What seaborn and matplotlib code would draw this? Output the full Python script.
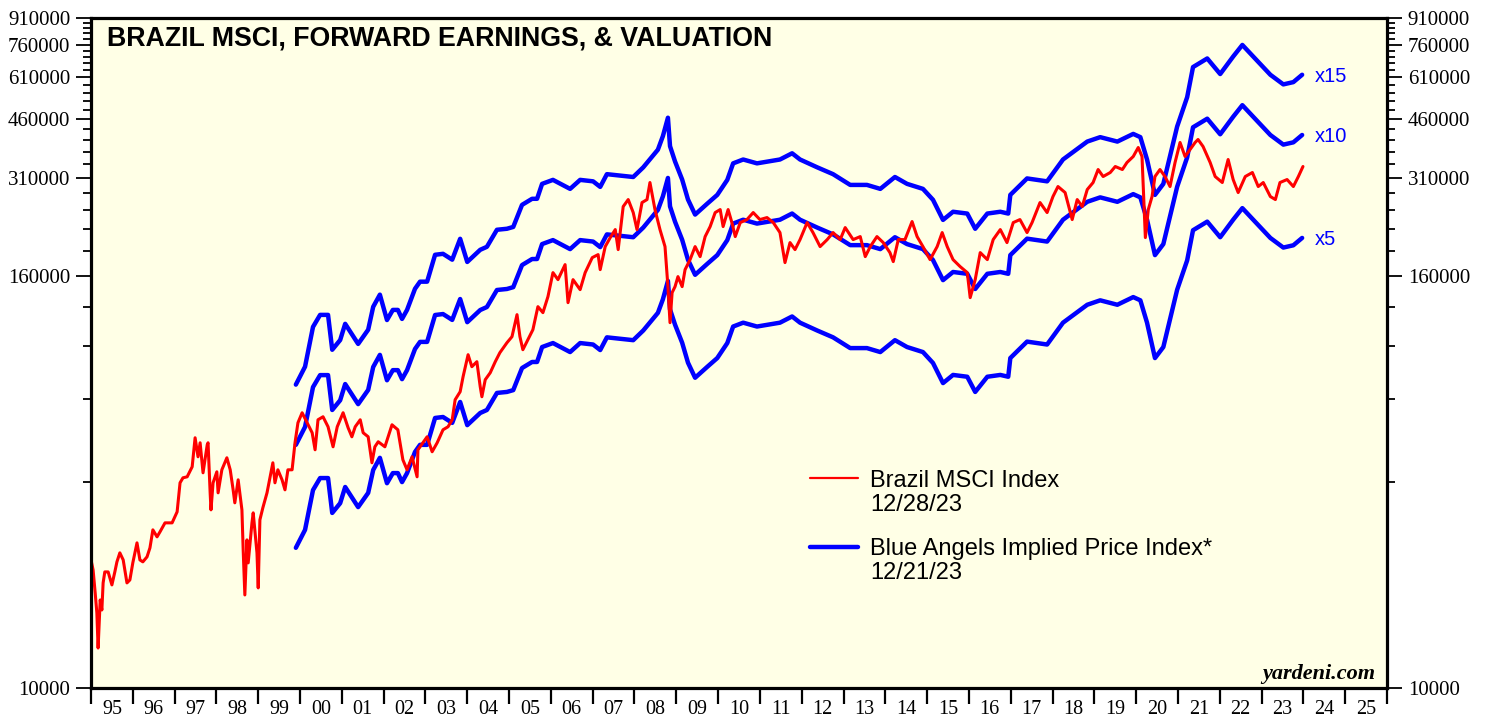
import numpy as np
import matplotlib
matplotlib.use("Agg")
import matplotlib.pyplot as plt
import seaborn as sns
from matplotlib.lines import Line2D
from matplotlib.ticker import FixedLocator, FixedFormatter, NullFormatter

# Brazil MSCI index (decimal year, index level)
msci_dates = [
    1995.00, 1995.05, 1995.10, 1995.14, 1995.17, 1995.22, 1995.26, 1995.29, 1995.33, 1995.41,
    1995.50, 1995.57, 1995.62, 1995.69, 1995.77, 1995.86, 1995.93, 1996.00, 1996.10, 1996.17,
    1996.24, 1996.34, 1996.41, 1996.48, 1996.58, 1996.65, 1996.77, 1996.94, 1997.06, 1997.13,
    1997.20, 1997.30, 1997.42, 1997.49, 1997.56, 1997.61, 1997.68, 1997.78, 1997.80, 1997.85,
    1997.87, 1997.92, 1998.01, 1998.04, 1998.13, 1998.25, 1998.33, 1998.40, 1998.44, 1998.52,
    1998.61, 1998.64, 1998.68, 1998.73, 1998.76, 1998.85, 1998.88, 1998.97, 1999.00, 1999.04,
    1999.11, 1999.21, 1999.28, 1999.35, 1999.40, 1999.47, 1999.57, 1999.64, 1999.71, 1999.81,
    1999.88, 1999.95, 2000.05, 2000.17, 2000.29, 2000.36, 2000.43, 2000.55, 2000.67, 2000.79,
    2000.89, 2001.03, 2001.15, 2001.24, 2001.32, 2001.44, 2001.51, 2001.63, 2001.72, 2001.79,
    2001.87, 2002.03, 2002.20, 2002.34, 2002.46, 2002.56, 2002.68, 2002.80, 2002.82, 2002.94,
    2003.04, 2003.16, 2003.28, 2003.42, 2003.54, 2003.64, 2003.71, 2003.83, 2003.90, 2004.02,
    2004.11, 2004.23, 2004.31, 2004.35, 2004.43, 2004.55, 2004.67, 2004.78, 2004.95, 2005.07,
    2005.19, 2005.26, 2005.33, 2005.45, 2005.57, 2005.69, 2005.81, 2005.93, 2006.05, 2006.17,
    2006.34, 2006.41, 2006.53, 2006.70, 2006.82, 2006.99, 2007.13, 2007.18, 2007.30, 2007.42,
    2007.54, 2007.61, 2007.73, 2007.85, 2007.97, 2008.06, 2008.18, 2008.30, 2008.37, 2008.49,
    2008.61, 2008.73, 2008.80, 2008.85, 2008.90, 2008.97, 2009.04, 2009.14, 2009.21, 2009.33,
    2009.45, 2009.57, 2009.69, 2009.81, 2009.93, 2010.05, 2010.12, 2010.24, 2010.33, 2010.41,
    2010.53, 2010.69, 2010.84, 2011.00, 2011.17, 2011.32, 2011.48, 2011.60, 2011.72, 2011.84,
    2011.96, 2012.13, 2012.27, 2012.44, 2012.61, 2012.75, 2012.92, 2013.04, 2013.23, 2013.40,
    2013.52, 2013.64, 2013.80, 2013.95, 2014.11, 2014.19, 2014.31, 2014.47, 2014.64, 2014.76,
    2014.90, 2015.07, 2015.24, 2015.36, 2015.48, 2015.62, 2015.79, 2015.96, 2016.03, 2016.15,
    2016.27, 2016.44, 2016.58, 2016.75, 2016.91, 2017.06, 2017.22, 2017.39, 2017.51, 2017.70,
    2017.87, 2018.01, 2018.13, 2018.30, 2018.47, 2018.59, 2018.71, 2018.83, 2018.97, 2019.09,
    2019.21, 2019.38, 2019.50, 2019.67, 2019.78, 2019.93, 2020.05, 2020.14, 2020.22, 2020.29,
    2020.38, 2020.45, 2020.57, 2020.69, 2020.81, 2020.93, 2021.05, 2021.17, 2021.29, 2021.41,
    2021.48, 2021.60, 2021.77, 2021.89, 2022.06, 2022.20, 2022.32, 2022.44, 2022.61, 2022.78,
    2022.92, 2023.04, 2023.21, 2023.33, 2023.44, 2023.61, 2023.76, 2023.88, 2023.99,
]
msci_values = [
    23700, 22150, 18970, 16580, 13090, 18090, 16910, 20290, 21850, 21850,
    20020, 21850, 23380, 24840, 23690, 20290, 20700, 23220, 26570, 23690,
    23380, 24180, 25690, 29000, 27670, 28610, 30400, 30400, 32740, 39810,
    41170, 41450, 44340, 53910, 47430, 52120, 42580, 51420, 52120, 37210,
    33180, 39810, 42870, 37210, 43450, 47110, 43450, 37970, 34790, 40620,
    33180, 25340, 18710, 27110, 23220, 30400, 32520, 24840, 19620, 31020,
    33630, 37210, 41170, 45550, 39810, 43450, 40620, 37970, 43450, 43450,
    52120, 59640, 63800, 59640, 55760, 49720, 60860, 62100, 58060, 50730,
    58060, 63800, 57670, 54270, 58060, 60860, 55760, 54270, 45550, 50730,
    52480, 50730, 58840, 56890, 46480, 43450, 47430, 41450, 49720, 52120,
    54270, 49060, 52120, 56890, 58060, 60860, 69640, 73500, 81320, 94310,
    86990, 89970, 76020, 71060, 79690, 83540, 89970, 95590, 102260, 106480,
    123490, 106480, 97540, 104340, 111610, 130330, 125170, 139420, 163890, 156330,
    172960, 133890, 156330, 146140, 163890, 181320, 185020, 167230, 195280, 207480,
    218970, 191360, 255700, 268030, 245560, 218970, 262680, 268030, 300580, 250560,
    218970, 195280, 149140, 117000, 143230, 149140, 159530, 149140, 167230, 178890,
    195280, 182550, 208890, 223450, 245560, 250560, 223450, 250560, 229560, 208890,
    229560, 234240, 245560, 234240, 237420, 229560, 214600, 175320, 200620, 191360,
    204700, 229560, 214600, 195280, 204700, 214600, 204700, 221950, 204700, 208890,
    182550, 195280, 208890, 200620, 187540, 176500, 204700, 204700, 231120, 208890,
    195280, 178890, 195280, 214600, 195280, 178890, 170660, 163890, 138480, 156330,
    187540, 178890, 204700, 218970, 200620, 229560, 234240, 214600, 229560, 262680,
    245560, 273520, 292590, 281000, 234240, 268030, 255700, 286720, 300580, 328090,
    312990, 321540, 334810, 328090, 343950, 358140, 380530, 358140, 207480, 250560,
    273520, 312990, 328090, 312990, 292590, 343950, 393580, 358140, 375420, 393580,
    401590, 383110, 343950, 312990, 300580, 350960, 306700, 281000, 312990, 321540,
    292590, 300580, 273520, 268030, 300580, 306700, 292590, 312990, 334810,
]

# forward earnings behind the Blue Angels implied price index
eps_dates = [
    1999.90, 2000.12, 2000.31, 2000.48, 2000.67, 2000.77, 2000.96, 2001.08, 2001.39, 2001.63,
    2001.75, 2001.91, 2002.08, 2002.22, 2002.34, 2002.44, 2002.56, 2002.75, 2002.87, 2003.04,
    2003.23, 2003.42, 2003.64, 2003.83, 2004.00, 2004.31, 2004.47, 2004.71, 2004.95, 2005.10,
    2005.31, 2005.55, 2005.67, 2005.79, 2006.05, 2006.46, 2006.70, 2007.01, 2007.18, 2007.34,
    2007.97, 2008.21, 2008.56, 2008.68, 2008.80, 2008.85, 2008.97, 2009.14, 2009.28, 2009.45,
    2009.74, 2009.98, 2010.22, 2010.36, 2010.60, 2010.93, 2011.48, 2011.77, 2011.96, 2012.37,
    2012.75, 2013.16, 2013.56, 2013.88, 2014.23, 2014.52, 2014.90, 2015.14, 2015.38, 2015.62,
    2015.96, 2016.15, 2016.44, 2016.75, 2016.94, 2016.99, 2017.39, 2017.87, 2018.25, 2018.83,
    2019.14, 2019.55, 2019.93, 2020.10, 2020.26, 2020.45, 2020.65, 2020.98, 2021.22, 2021.36,
    2021.70, 2022.01, 2022.32, 2022.54, 2022.80, 2023.21, 2023.52, 2023.76, 2023.97,
]
fwd_eps = [
    5140, 5800, 7580, 8220, 8220, 6500, 6940, 7740, 6760, 7440,
    8680, 9420, 7940, 8500, 8500, 8000, 8500, 9800, 10280, 10280,
    12320, 12400, 11920, 13720, 11740, 12740, 13000, 14580, 14680, 14860,
    17240, 17960, 17960, 19860, 20400, 19200, 20400, 20200, 19460, 21200,
    20800, 22200, 25000, 27400, 31000, 25600, 23090, 20450, 17870, 16150,
    17380, 18440, 20400, 22800, 23400, 22800, 23400, 24400, 23400, 22200,
    21200, 19720, 19720, 19200, 20800, 19860, 19200, 17840, 15580, 16460,
    16260, 14680, 16260, 16460, 16260, 18440, 20600, 20200, 23400, 26400,
    27200, 26400, 27800, 27200, 23400, 18440, 19860, 29200, 35600, 43600,
    46200, 41600, 46800, 50600, 46800, 41400, 38800, 39400, 41400,
]
pe_multiples = [5, 10, 15]

major_y = [10000, 160000, 310000, 460000, 610000, 760000, 910000]
minor_y = [v for v in range(10000, 910001, 30000) if v not in major_y]
years = list(range(1995, 2026))

assert len(msci_dates) == len(msci_values)
assert len(eps_dates) == len(fwd_eps)

sns.set_theme(style="ticks")
plt.rcParams['font.family'] = ['Liberation Sans', 'DejaVu Sans']
plt.rcParams['text.color'] = 'black'
plt.rcParams['xtick.color'] = 'black'
plt.rcParams['ytick.color'] = 'black'
plt.rcParams['axes.labelcolor'] = 'black'

fig = plt.figure(figsize=(14.9, 7.19), dpi=100)
ax = fig.add_axes([91 / 1490, 31 / 719, 1296 / 1490, 670 / 719])
ax.set_facecolor('#FFFFE6')

eps = np.array(fwd_eps, dtype=float)
for m in pe_multiples:
    sns.lineplot(x=eps_dates, y=eps * m, ax=ax, color='#0000FF', lw=3.2,
                 estimator=None, sort=False, legend=False)
    ax.annotate(f"x{m}", xy=(eps_dates[-1], eps[-1] * m), xytext=(9, -1),
                textcoords='offset points', color='#0000FF', fontsize=14.5,
                va='center', ha='left')

sns.lineplot(x=msci_dates, y=msci_values, ax=ax, color='#FF0000', lw=2.2,
             estimator=None, sort=False, legend=False)

ax.set_yscale('log')
ax.set_ylim(10000, 910000)
ax.set_xlim(1995, 2026)
ax.yaxis.set_major_locator(FixedLocator(major_y))
ax.yaxis.set_major_formatter(FixedFormatter([str(v) for v in major_y]))
ax.yaxis.set_minor_locator(FixedLocator(minor_y))
ax.yaxis.set_minor_formatter(NullFormatter())

ax.xaxis.set_major_locator(FixedLocator(list(range(1995, 2027))))
ax.xaxis.set_major_formatter(NullFormatter())
ax.xaxis.set_minor_locator(FixedLocator([y + 0.5 for y in years]))
ax.xaxis.set_minor_formatter(FixedFormatter([f"{y % 100:02d}" for y in years]))

ax.set_xlabel('')
ax.set_ylabel('')
ax.tick_params(axis='y', which='both', left=True, right=True, labelleft=True,
               labelright=True, direction='out', width=1.3, color='black',
               labelsize=15, labelfontfamily='Liberation Serif', pad=4)
ax.tick_params(axis='y', which='major', length=11)
ax.tick_params(axis='y', which='minor', length=5.5)
ax.tick_params(axis='x', which='major', bottom=True, direction='out', length=11.5,
               width=1.6, color='black')
ax.tick_params(axis='x', which='minor', bottom=True, length=0, pad=9,
               labelsize=14.5, labelfontfamily='Liberation Serif')

for s in ax.spines.values():
    s.set_visible(True)
    s.set_color('black')
    s.set_linewidth(2.3)

ax.text(0.0123, 0.9597, "BRAZIL MSCI, FORWARD EARNINGS, & VALUATION",
        transform=ax.transAxes, fontsize=19.3, weight='bold', va='baseline', ha='left')
ax.text(0.9907, 0.0134, "yardeni.com", transform=ax.transAxes, fontsize=16,
        weight='bold', style='italic', family='Liberation Serif', ha='right', va='baseline')

blank = Line2D([], [], color='none')
leg1 = ax.legend([Line2D([], [], color='#FF0000', lw=1.6), blank],
                 ["Brazil MSCI Index", "12/28/23"], loc='upper left',
                 bbox_to_anchor=(0.555, 0.326), frameon=False, fontsize=17,
                 handlelength=2.0, handletextpad=0.55, labelspacing=0.1, borderpad=0,
                 borderaxespad=0)
ax.add_artist(leg1)
ax.legend([Line2D([], [], color='#0000FF', lw=3.2), blank],
          ["Blue Angels Implied Price Index*", "12/21/23"], loc='upper left',
          bbox_to_anchor=(0.555, 0.224), frameon=False, fontsize=17,
          handlelength=2.0, handletextpad=0.55, labelspacing=0.1, borderpad=0,
          borderaxespad=0)

fig.savefig("out.png", dpi=100)
